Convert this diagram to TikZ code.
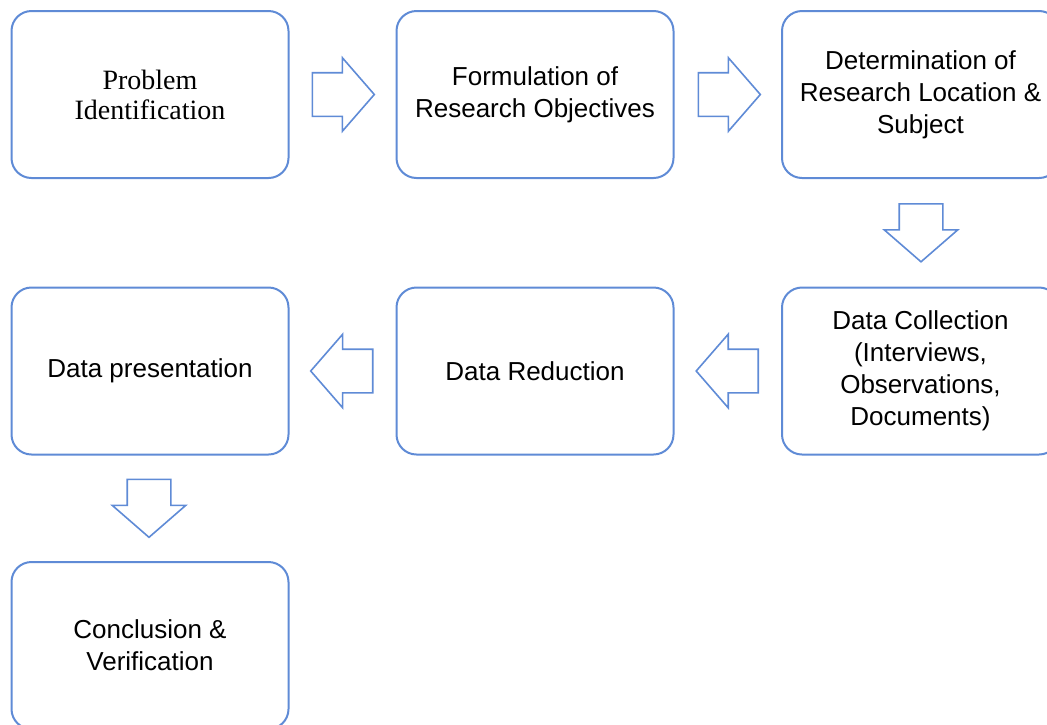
\documentclass[tikz,border=0pt]{standalone}
\usepackage{fontspec}
\setmainfont{Liberation Serif}
\setsansfont{Liberation Sans}
\usetikzlibrary{shapes.arrows,calc}
\definecolor{boxblue}{RGB}{95,139,214}

\begin{document}
\begin{tikzpicture}[x=0.5pt, y=-0.5pt,
    stage/.style={rectangle, rounded corners=10pt, draw=boxblue, line width=1pt, fill=white, minimum width=138.5pt, minimum height=83.5pt, inner sep=0pt, align=center, font=\fontsize{13}{16}\selectfont\sffamily},
    blockarrow/.style={single arrow, draw=boxblue, line width=0.8pt, fill=white, inner xsep=0pt, inner ysep=10.5pt, minimum height=31pt, single arrow head extend=7.5pt, single arrow tip angle=98},
    downarrow/.style={blockarrow, shape border rotate=270, inner xsep=10.5pt, inner ysep=0pt, minimum height=29pt}
]

\clip (0,0) rectangle (1047,724);

% Row 1
\node[stage, font=\fontsize{14}{15}\selectfont\rmfamily] (p1) at (150,94.5) {Problem\\Identification};
\node[stage] (p2) at (535,94.5) {Formulation of\\Research Objectives};
\node[stage] (p3) at (920.5,94.5) {Determination of\\Research Location \&\\Subject};

% Row 2
\node[stage] (p4) at (920.5,371) {Data Collection\\(Interviews,\\Observations,\\Documents)};
\node[stage] (p5) at (535,371) {Data Reduction};
\node[stage] (p6) at (150,371) {Data presentation};

% Row 3
\node[stage] (p7) at (150,645.5) {Conclusion \&\\Verification};

% Block arrows
\node[blockarrow, anchor=tail] (a1) at ($(p1.east)+(22,0)$) {};
\node[blockarrow, anchor=tail] (a2) at ($(p2.east)+(23,0)$) {};
\node[downarrow, anchor=tail] (a3) at ($(p3.south)+(0.5,24)$) {};
\node[blockarrow, shape border rotate=180, anchor=tail] (a4) at ($(p4.west)+(-22,0)$) {};
\node[blockarrow, shape border rotate=180, anchor=tail] (a5) at ($(p5.west)+(-22,0)$) {};
\node[downarrow, anchor=tail] (a6) at ($(p6.south)+(-1,23)$) {};

\end{tikzpicture}
\end{document}
